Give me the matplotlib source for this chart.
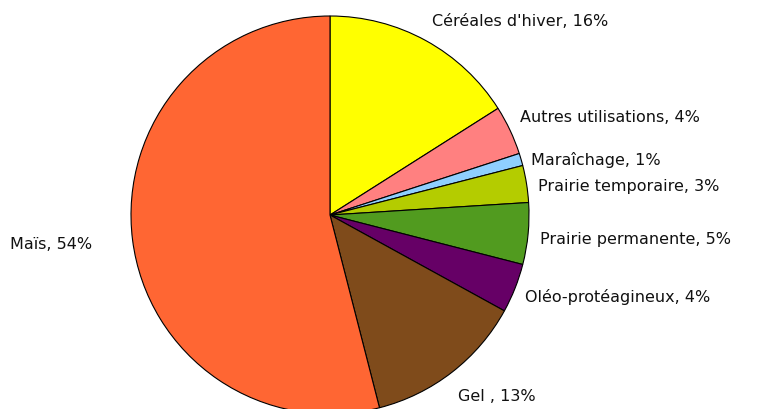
import matplotlib
matplotlib.use("Agg")
import matplotlib.pyplot as plt

# Données (surface en %)
labels = ["Céréales d'hiver", "Autres utilisations", "Maraîchage",
          "Prairie temporaire", "Prairie permanente", "Oléo-protéagineux",
          "Gel ", "Maïs"]
values = [16, 4, 1, 3, 5, 4, 13, 54]
colors = ["#FFFF00", "#FF8080", "#8FCFFF", "#B4CC00", "#519B1F",
          "#660066", "#7F4B1B", "#FF6633"]

# label positions in pixels (left x, y from top)
label_pos = [(432, 22), (520, 118), (531, 160), (538, 187),
             (540, 240), (525, 297), (458, 397), (10, 245)]

W, H = 776, 410
fig = plt.figure(figsize=(W / 100, H / 100), dpi=100)
ax = fig.add_axes([0, 0, 1, 1])
ax.axis("off")

ax.pie(values, colors=colors, startangle=90, counterclock=False,
       center=(330, H - 216), radius=199,
       wedgeprops=dict(edgecolor="black", linewidth=0.8))
ax.set_xlim(0, W)
ax.set_ylim(0, H)
ax.set_aspect("equal")

for lab, v, (x, y) in zip(labels, values, label_pos):
    ax.text(x, H - y, f"{lab}, {v}%", ha="left", va="center",
            fontsize=11.5, family="DejaVu Sans", color="#111111")

fig.savefig("out.png", dpi=100)
